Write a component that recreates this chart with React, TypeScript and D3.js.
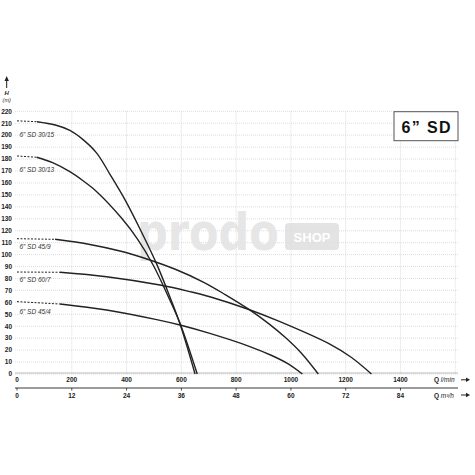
import * as d3 from 'd3';

// flow ticks (l/min) and the matching m3/h ticks
const qTicks = [0, 200, 400, 600, 800, 1000, 1200, 1400];
const m3hTicks = [0, 12, 24, 36, 48, 60, 72, 84];
const hTicks = [0, 10, 20, 30, 40, 50, 60, 70, 80, 90, 100, 110, 120, 130, 140, 150, 160, 170, 180, 190, 200, 210, 220];
const gridQ = [200, 400, 600, 800, 1000, 1200, 1400, 1600];

const names = ['6” SD 30/15', '6” SD 30/13', '6” SD 45/9', '6” SD 60/7', '6” SD 45/4'];
const shutoff = [212, 182.6, 113.3, 85.4, 60.6];

// [Q l/min, H m]
const sd3015: [number, number][] = [[73, 211.3], [140, 208.5], [193, 204], [240, 196.5], [291, 185], [340, 167], [394, 146], [450, 121], [510, 92], [560, 63.5], [595, 42], [650, 0]];
const sd3013: [number, number][] = [[72, 181.5], [130, 177], [193, 169.4], [240, 162], [291, 152.7], [380, 131], [440, 113], [497, 91.3], [550, 66], [595, 42.5], [658, 0]];
const sd459: [number, number][] = [[139, 112.8], [266, 108.5], [376, 103], [485, 95.5], [580, 87.5], [680, 77], [760, 66.5], [844, 54.5], [920, 42], [980, 30.5], [1040, 17], [1100, 0]];
const sd607: [number, number][] = [[157, 85.2], [327, 81.5], [522, 74.5], [631, 69], [704, 64.7], [844, 54.2], [960, 43.8], [1142, 25], [1220, 14], [1294, 0]];
const sd454: [number, number][] = [[157, 58.6], [327, 53.6], [510, 45.5], [595, 41], [704, 34], [850, 23], [930, 15.5], [990, 8.5], [1042, 0]];
const curves = [sd3015, sd3013, sd459, sd607, sd454];

const labelY = [136.5, 171.5, 249, 281.5, 313.5];

const font = '"Liberation Sans", Arial, sans-serif';
const ink = '#222';

export default function App() {
  const x = d3.scaleLinear().domain([0, 1610]).range([17, 458]);
  const y = d3.scaleLinear().domain([0, 220]).range([374, 111.3]);
  const xm = d3.scaleLinear().domain([0, 96.6]).range([17, 458]);

  const line = d3
    .line<[number, number]>()
    .x((d) => x(d[0]))
    .y((d) => y(d[1]))
    .curve(d3.curveCatmullRom.alpha(0.5));

  const arrow = (ay: number) => (
    <g>
      <line x1={461} x2={467} y1={ay} y2={ay} stroke={ink} strokeWidth={1} />
      <path d={`M470,${ay} L466,${ay - 2.2} L466,${ay + 2.2} Z`} fill={ink} />
    </g>
  );

  return (
    <svg width={475} height={475} style={{ position: 'absolute', left: 0, top: 0, background: '#fff' }} fontFamily={font}>
      <rect width={475} height={475} fill="#fff" />

      {/* grid */}
      <g stroke="#d4d4d4" strokeWidth={0.8} strokeDasharray="1,1">
        {hTicks.map((h) => (
          <line key={h} x1={15} x2={458} y1={y(h)} y2={y(h)} />
        ))}
        {gridQ.map((q) => (
          <line key={q} x1={x(q)} x2={x(q)} y1={y(220)} y2={y(0)} />
        ))}
      </g>

      {/* watermark */}
      <g opacity={0.9}>
        <text transform="translate(137,250) scale(1,1.2)" fontFamily='"DejaVu Sans", sans-serif' fontWeight="bold" fontSize={43} fill="#e4e4e4">
          prodo
        </text>
        <rect x={285} y={223} width={54} height={27} rx={4} fill="#e0e0e0" />
        <text x={312} y={242} textAnchor="middle" fontWeight="bold" fontSize={13} fill="#fff">
          SHOP
        </text>
      </g>

      {/* y axis */}
      <g fontSize={6.5} fontWeight="bold" fill={ink}>
        {hTicks.map((h) => (
          <text key={h} x={12} y={y(h) + 2.3} textAnchor="end">
            {h}
          </text>
        ))}
      </g>
      <line x1={6.7} x2={6.7} y1={80} y2={88} stroke={ink} strokeWidth={1} />
      <path d="M6.7,76 L4.5,81 L8.9,81 Z" fill={ink} />
      <text x={6.7} y={95} textAnchor="middle" fontSize={6} fontWeight="bold" fontStyle="italic" fill={ink}>H</text>
      <text x={6.7} y={102} textAnchor="middle" fontSize={5.5} fontStyle="italic" fill={ink}>(m)</text>

      {/* x axes */}
      <line x1={15} x2={458} y1={373} y2={373} stroke="#aaa" strokeWidth={0.8} />
      <g fontSize={6.5} fontWeight="bold" fill={ink}>
        {qTicks.map((q) => (
          <text key={q} x={x(q)} y={382.3} textAnchor="middle">
            {q}
          </text>
        ))}
      </g>
      <text x={434} y={382.3} fontSize={6.5} fill={ink}>
        <tspan fontWeight="bold">Q</tspan>
        <tspan fontStyle="italic"> l/min</tspan>
      </text>
      {arrow(379.8)}

      <line x1={15} x2={458} y1={388} y2={388} stroke={ink} strokeWidth={0.9} />
      <g fontSize={6.5} fontWeight="bold" fill={ink}>
        {m3hTicks.map((m) => (
          <g key={m}>
            <line x1={xm(m)} x2={xm(m)} y1={388} y2={390.5} stroke={ink} strokeWidth={0.8} />
            <text x={xm(m)} y={397.5} textAnchor="middle">
              {m}
            </text>
          </g>
        ))}
      </g>
      <text x={434} y={397.5} fontSize={6.5} fill={ink}>
        <tspan fontWeight="bold">Q</tspan>
        <tspan fontStyle="italic"> m³/h</tspan>
      </text>
      {arrow(395)}

      {/* curves */}
      <g fill="none" stroke={ink} strokeWidth={1.4}>
        {curves.map((c, i) => (
          <g key={i}>
            <line x1={x(0)} x2={x(c[0][0])} y1={y(shutoff[i])} y2={y(c[0][1])} strokeDasharray="2,1.5" strokeWidth={1} />
            <path d={line(c) ?? ''} />
          </g>
        ))}
      </g>

      {/* curve labels */}
      <g fontSize={6.5} fontStyle="italic" fill="#333">
        {names.map((n, i) => (
          <text key={n} x={19.5} y={labelY[i]}>
            {n}
          </text>
        ))}
      </g>

      {/* title box */}
      <rect x={394} y={111.7} width={64} height={29} fill="#fff" stroke="#555" strokeWidth={1} />
      <text x={426} y={133.3} textAnchor="middle" fontWeight="bold" fontSize={16} textLength={49} lengthAdjust="spacing" fill="#111">
        6” SD
      </text>
    </svg>
  );
}
